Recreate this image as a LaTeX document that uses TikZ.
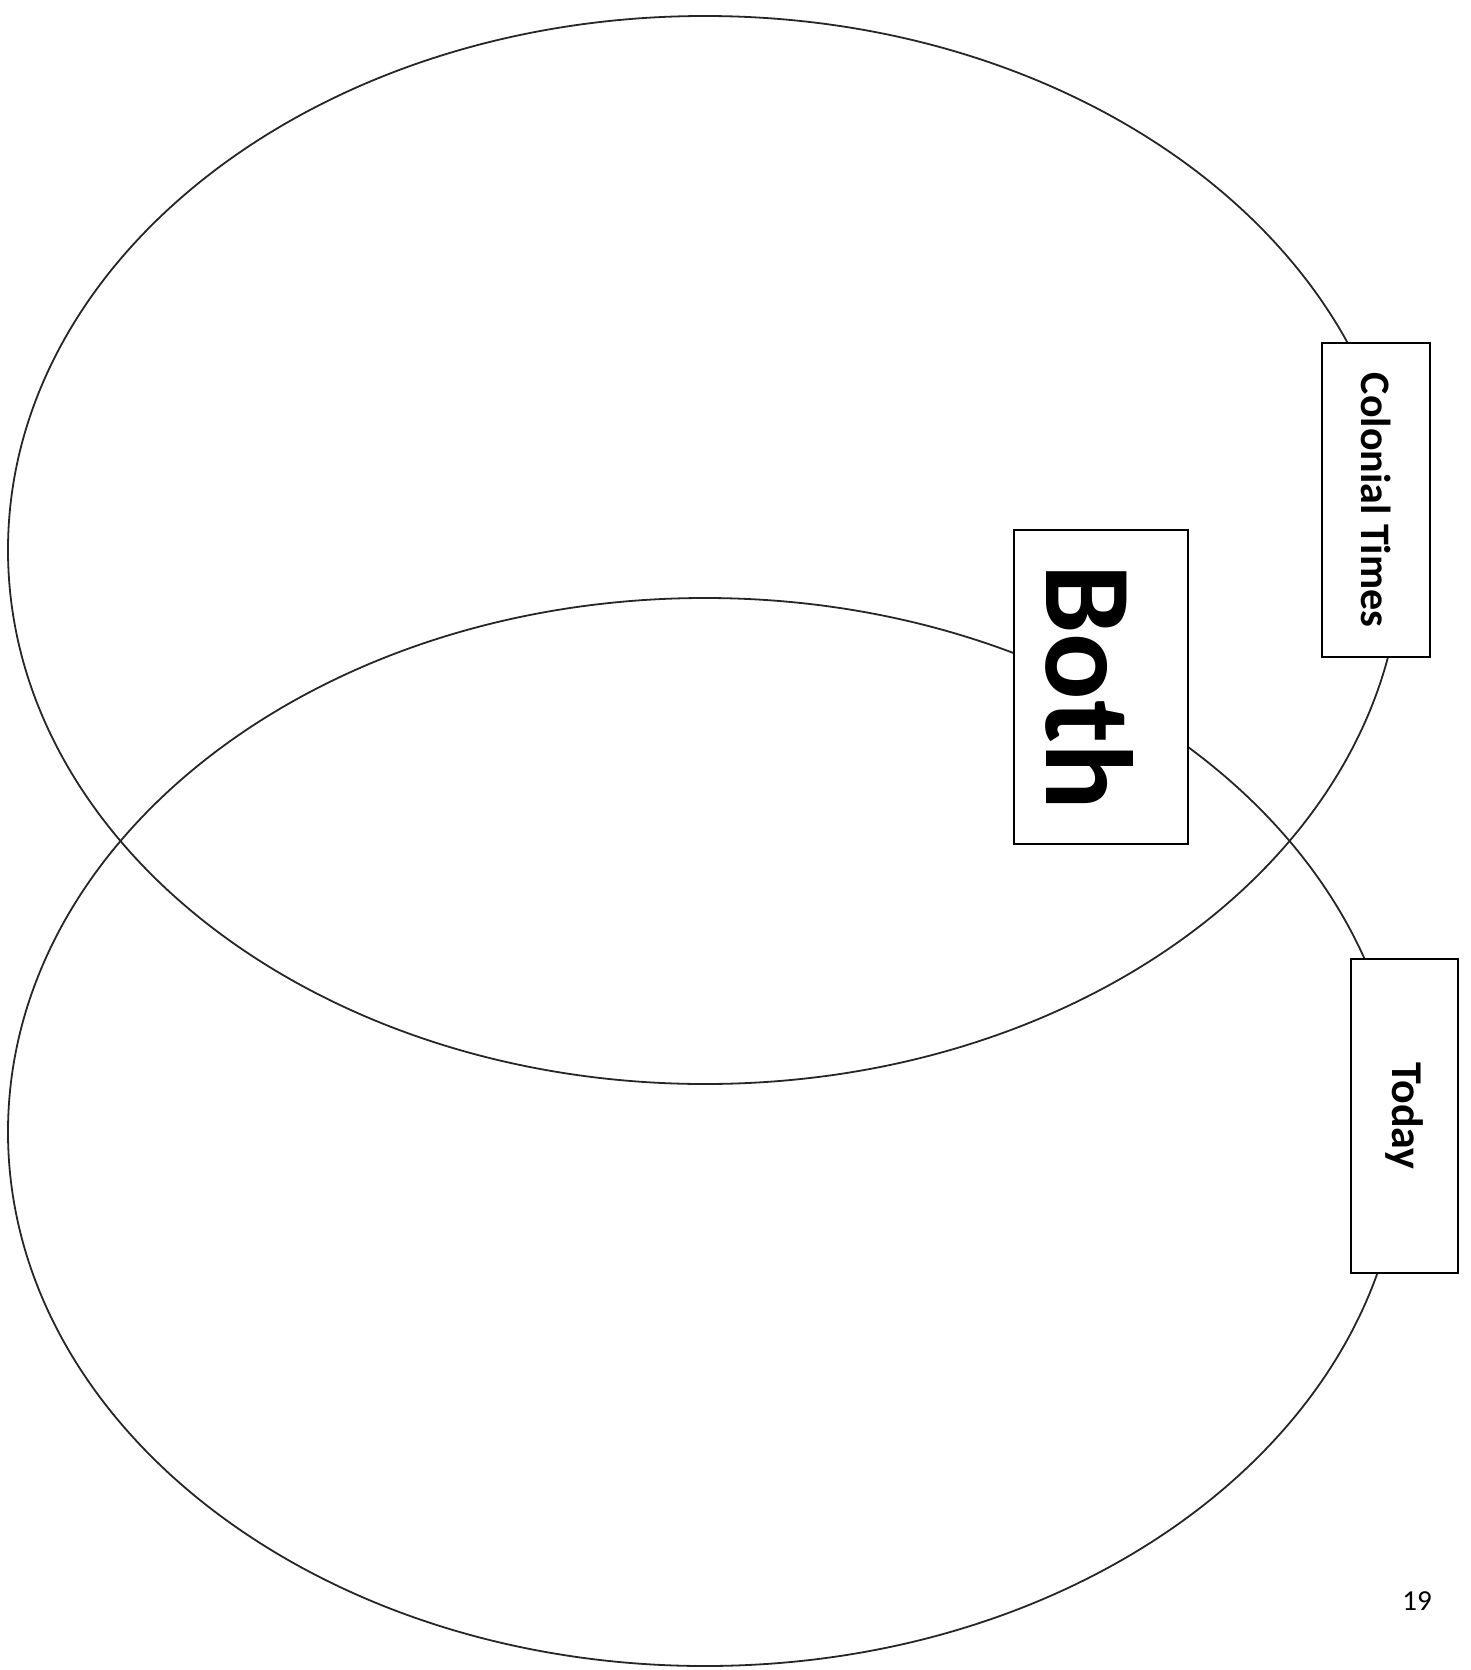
\documentclass[tikz,border=0pt]{standalone}
\usepackage{fontspec}
\setmainfont{Carlito}
\usepackage{tikz}

\begin{document}
\begin{tikzpicture}[x=1pt,y=-1pt,
    ring/.style={line width=1.8pt,draw=black!85},
    tag/.style={draw,fill=white,line width=1.3pt,rotate=-90,inner sep=0pt,font=\bfseries}]
  \useasboundingbox (0,0) rectangle (1470,1670);
  % the two circles
  \draw[ring] (705,550) ellipse [x radius=697,y radius=534];
  \draw[ring] (705,1132) ellipse [x radius=697,y radius=534];
  % labels
  \node[tag,minimum width=314pt,minimum height=108pt] (colonial) at (1376,500)
    {\fontsize{42}{48}\selectfont Colonial Times};
  \node[tag,minimum width=314pt,minimum height=174pt] (both) at (1101,687)
    {\fontsize{124}{130}\selectfont\raisebox{-14pt}[0.65em][0pt]{Both}};
  \node[tag,minimum width=314pt,minimum height=107pt] (today) at (1404.5,1116)
    {\fontsize{44}{50}\selectfont Today};
  \node (page) at (1417,1601) {\fontsize{29}{32}\selectfont 19};
\end{tikzpicture}
\end{document}
